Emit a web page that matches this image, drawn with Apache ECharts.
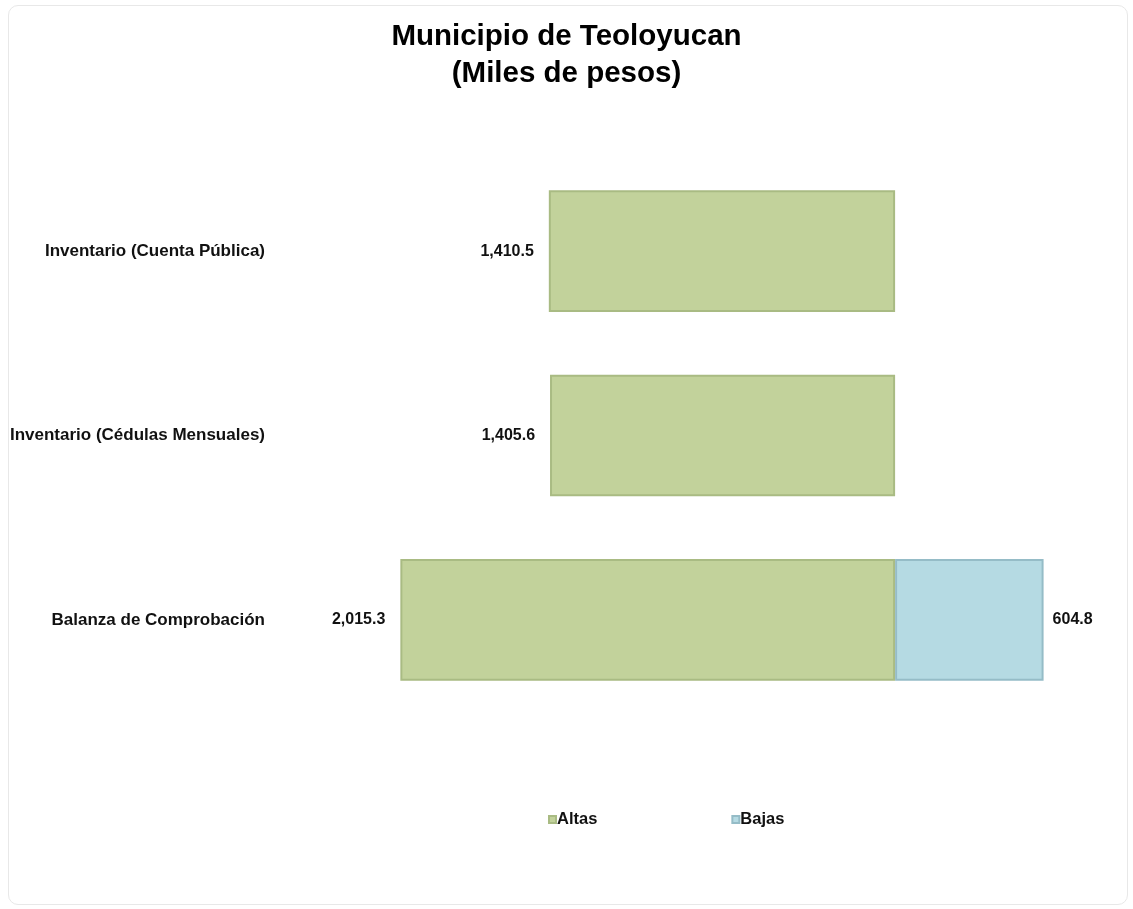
<!DOCTYPE html>
<html>
<head>
<meta charset="utf-8">
<title>Municipio de Teoloyucan</title>
<script src="https://cdn.jsdelivr.net/npm/echarts@6/dist/echarts.min.js"></script>
<style>
  html, body { margin: 0; padding: 0; background: #ffffff; }
  .card {
    position: absolute;
    left: 8px; top: 5px;
    width: 1120px; height: 900px;
    box-sizing: border-box;
    border: 1px solid #e8e8e8;
    border-radius: 10px;
  }
  #chart { position: absolute; left: 0; top: 0; width: 1133px; height: 909px; }
</style>
</head>
<body>
<div class="card"></div>
<div id="chart"></div>
<script>
// categories top to bottom
const categories = [
  'Inventario (Cuenta Pública)',
  'Inventario (Cédulas Mensuales)',
  'Balanza de Comprobación'
];
const altas = [1410.5, 1405.6, 2015.3];
const bajas = [null, null, 604.8];

const fmt = v => Math.abs(v).toLocaleString('en-US', { minimumFractionDigits: 1, maximumFractionDigits: 1 });

const chart = echarts.init(document.getElementById('chart'));

const font = 'Liberation Sans, Arial, sans-serif';

chart.setOption({
  animation: false,
  title: {
    text: 'Municipio de Teoloyucan\n(Miles de pesos)',
    left: 'center',
    top: 13,
    textStyle: {
      fontFamily: font,
      fontSize: 29.5,
      fontWeight: 'bold',
      color: '#000',
      lineHeight: 37
    }
  },
  legend: {
    left: 543,
    top: 806,
    itemWidth: 7,
    itemHeight: 7,
    itemGap: 134,
    icon: 'rect',
    textStyle: { fontFamily: font, fontSize: 16.5, fontWeight: 'bold', color: '#111', padding: [0, 0, 0, -4] },
    data: ['Altas', 'Bajas']
  },
  grid: {
    left: 355,
    right: 41.5,
    top: 159,
    bottom: 197
  },
  xAxis: {
    type: 'value',
    min: -2200,
    max: 800,
    show: false,
    splitLine: { show: false }
  },
  yAxis: {
    type: 'category',
    inverse: true,
    data: categories,
    axisLine: { show: false },
    axisTick: { show: false },
    axisLabel: {
      margin: 90,
      fontFamily: font,
      fontSize: 17,
      fontWeight: 'bold',
      color: '#111'
    }
  },
  series: [
    {
      name: 'Altas',
      type: 'bar',
      stack: 'total',
      barCategoryGap: '34%',
      data: altas.map(v => -v),
      itemStyle: {
        color: '#c2d29b',
        borderColor: '#a9bb83',
        borderWidth: 2
      },
      label: {
        show: true,
        position: 'left',
        distance: 15,
        formatter: p => fmt(p.value),
        fontFamily: font,
        fontSize: 16,
        fontWeight: 'bold',
        color: '#111'
      }
    },
    {
      name: 'Bajas',
      type: 'bar',
      stack: 'total',
      barCategoryGap: '34%',
      data: bajas,
      itemStyle: {
        color: '#b5dae3',
        borderColor: '#95bcc7',
        borderWidth: 2
      },
      label: {
        show: true,
        position: 'right',
        distance: 9,
        formatter: p => fmt(p.value),
        fontFamily: font,
        fontSize: 16,
        fontWeight: 'bold',
        color: '#111'
      }
    }
  ]
});
</script>
</body>
</html>
